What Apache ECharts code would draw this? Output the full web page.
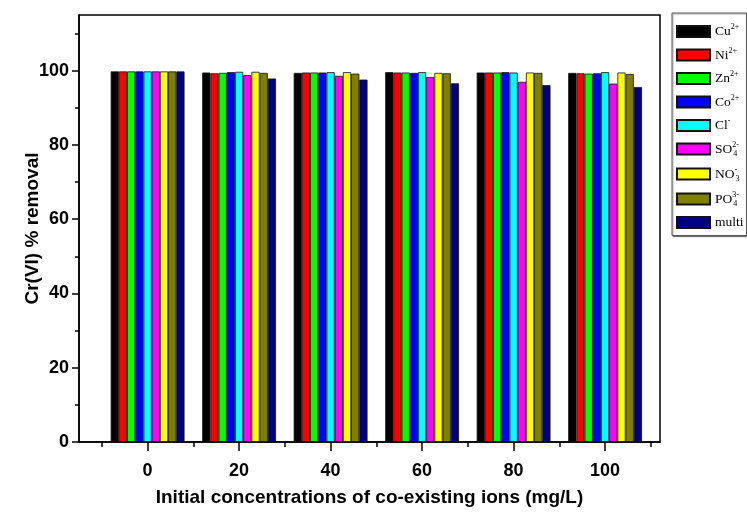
<!DOCTYPE html>
<html>
<head>
<meta charset="utf-8">
<title>Cr(VI) removal with co-existing ions</title>
<script src="https://cdn.jsdelivr.net/npm/echarts@6/dist/echarts.min.js"></script>
<style>
  html, body { margin: 0; padding: 0; background: #fff; }
  #chart { width: 747px; height: 516px; }
</style>
</head>
<body>
<div id="chart"></div>
<script>
// Initial concentration of each co-existing ion (mg/L)
const concentrations = [0, 20, 40, 60, 80, 100];

// Cr(VI) % removal for each co-existing ion
const cu   = [99.8, 99.5, 99.4, 99.6, 99.5, 99.4];
const ni   = [99.8, 99.3, 99.5, 99.5, 99.5, 99.3];
const zn   = [99.8, 99.4, 99.5, 99.5, 99.5, 99.2];
const co   = [99.8, 99.6, 99.5, 99.4, 99.6, 99.3];
const cl   = [99.8, 99.7, 99.6, 99.6, 99.5, 99.6];
const so4  = [99.8, 98.8, 98.6, 98.3, 97.0, 96.5];
const no3  = [99.8, 99.7, 99.6, 99.4, 99.5, 99.5];
const po4  = [99.8, 99.4, 99.2, 99.3, 99.4, 99.1];
const multi = [99.8, 97.9, 97.6, 96.6, 96.1, 95.6];

// Axis ticks
const xMajorTicks = [0, 20, 40, 60, 80, 100];
const xMinorTicks = [-10, 10, 30, 50, 70, 90, 110];
const yMajorTicks = [0, 20, 40, 60, 80, 100];
const yMinorTicks = [10, 30, 50, 70, 90, 110];

const ionNames = ['Cu2+', 'Ni2+', 'Zn2+', 'Co2+', 'Cl-', 'SO42-', 'NO3-', 'PO43-', 'multi'];
const ionValues = [cu, ni, zn, co, cl, so4, no3, po4, multi];
const ionColors = ['#000000', '#ff0000', '#00ff00', '#0000ff', '#00ffff', '#ff00ff', '#ffff00', '#808000', '#000080'];

// Rich-text legend labels with charges and subscripts
const legendLabels = {
  'Cu2+': '{t|Cu}{sup|2+}',
  'Ni2+': '{t|Ni}{sup|2+}',
  'Zn2+': '{t|Zn}{sup|2+}',
  'Co2+': '{t|Co}{sup|2+}',
  'Cl-': '{t|Cl}{sup|-}',
  'SO42-': '{t|SO}{supz|2-}{sub|4}',
  'NO3-': '{t|NO}{supz|-}{sub|3}',
  'PO43-': '{t|PO}{supz|3-}{sub|4}',
  'multi': '{t|multi}'
};

const sansBold = { fontFamily: 'Liberation Sans, Arial, sans-serif', fontWeight: 'bold', color: '#000' };
const serif = 'Liberation Serif, Times New Roman, serif';

const X_MIN = -15, X_MAX = 112, Y_MIN = 0, Y_MAX = 115;
const axisLine = { show: true, onZero: false, lineStyle: { color: '#000', width: 1.5 } };
const hiddenLine = { show: false, onZero: false };

const series = ionNames.map((name, i) => ({
  name: name,
  type: 'bar',
  xAxisIndex: 0,
  yAxisIndex: 0,
  barWidth: 8.2,
  barGap: '0%',
  itemStyle: { color: ionColors[i], borderColor: '#111', borderWidth: 0.8 },
  data: concentrations.map((c, j) => [c, ionValues[i][j]])
}));

const chart = echarts.init(document.getElementById('chart'), null, { renderer: 'canvas' });
chart.setOption({
  backgroundColor: '#fff',
  animation: false,
  grid: {
    left: 79, top: 15, right: 87, bottom: 74,
    show: true, borderColor: '#000', borderWidth: 1.5, backgroundColor: 'transparent'
  },
  legend: {
    orient: 'vertical',
    left: 672, top: 13,
    padding: [10, 3, 6, 4],
    itemGap: 8,
    icon: 'rect',
    itemWidth: 33, itemHeight: 11,
    backgroundColor: '#fff',
    borderColor: '#555', borderWidth: 1,
    shadowColor: 'rgba(0,0,0,0.35)', shadowOffsetX: 1, shadowOffsetY: 1, shadowBlur: 1,
    data: ionNames,
    formatter: name => legendLabels[name],
    textStyle: {
      color: '#000',
      fontFamily: serif,
      rich: {
        t: { fontFamily: serif, fontSize: 13.5, color: '#000' },
        sup: { fontFamily: serif, fontSize: 8, color: '#000', padding: [0, 0, 9, 0] },
        supz: { fontFamily: serif, fontSize: 8, color: '#000', padding: [0, 0, 9, 0], width: 1 },
        sub: { fontFamily: serif, fontSize: 8, color: '#000', padding: [9, 0, 0, 0] }
      }
    }
  },
  xAxis: [
    {
      type: 'value', min: X_MIN, max: X_MAX, position: 'bottom',
      name: 'Initial concentrations of co-existing ions (mg/L)',
      nameLocation: 'middle', nameGap: 46, nameMoveOverlap: false,
      nameTextStyle: Object.assign({ fontSize: 19 }, sansBold),
      axisLine: axisLine,
      axisTick: { show: true, inside: false, length: 9, customValues: xMajorTicks, lineStyle: { color: '#000', width: 1.5 } },
      axisLabel: Object.assign({ fontSize: 18, margin: 20, customValues: xMajorTicks }, sansBold),
      splitLine: { show: false }
    },
    {
      type: 'value', min: X_MIN, max: X_MAX, position: 'bottom', offset: 0,
      axisLine: hiddenLine,
      axisTick: { show: true, inside: false, length: 5, customValues: xMinorTicks, lineStyle: { color: '#000', width: 1.5 } },
      axisLabel: { show: false },
      splitLine: { show: false }
    }
  ],
  yAxis: [
    {
      type: 'value', min: Y_MIN, max: Y_MAX, position: 'left',
      name: 'Cr(VI) % removal',
      nameLocation: 'middle', nameGap: 37, nameMoveOverlap: false,
      nameTextStyle: Object.assign({ fontSize: 19 }, sansBold),
      axisLine: axisLine,
      axisTick: { show: true, inside: false, length: 7, customValues: yMajorTicks, lineStyle: { color: '#000', width: 1.5 } },
      axisLabel: Object.assign({ fontSize: 18, margin: 10, customValues: yMajorTicks }, sansBold),
      splitLine: { show: false }
    },
    {
      type: 'value', min: Y_MIN, max: Y_MAX, position: 'left', offset: 0,
      axisLine: hiddenLine,
      axisTick: { show: true, inside: false, length: 4, customValues: yMinorTicks, lineStyle: { color: '#000', width: 1.5 } },
      axisLabel: { show: false },
      splitLine: { show: false }
    }
  ],
  series: series
});
</script>
</body>
</html>
